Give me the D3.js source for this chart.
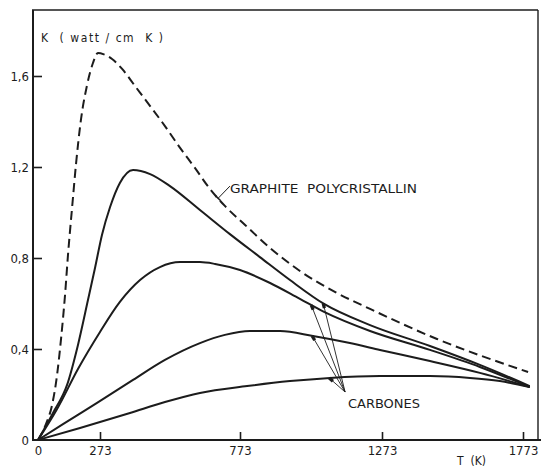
<!DOCTYPE html>
<html><head><meta charset="utf-8">
<script src="https://cdn.jsdelivr.net/npm/d3@7"></script>
<style>body{margin:0;background:#fff}svg{display:block}</style>
</head><body><svg id="c" width="541" height="470"></svg>
<script>
// ---- data ----
const tTicks = [0, 273, 773, 1273, 1773];
const kTicks = [0, 0.4, 0.8, 1.2, 1.6];

const graphiteT = [0, 35, 62, 84, 101, 119, 132, 150, 167, 189, 216, 242, 264, 287, 316, 352, 398, 452, 505, 559, 612, 666, 719, 791, 879, 984, 1107, 1231, 1468, 1791];
const graphiteK = [0, 0.070, 0.154, 0.286, 0.440, 0.637, 0.813, 1.020, 1.209, 1.407, 1.560, 1.657, 1.701, 1.695, 1.675, 1.631, 1.556, 1.468, 1.380, 1.284, 1.196, 1.103, 1.029, 0.945, 0.844, 0.743, 0.651, 0.576, 0.444, 0.299];

const carbone1T = [0, 66, 128, 176, 220, 251, 280, 309, 344, 391, 452, 523, 630, 737, 843, 949, 1069, 1231, 1443, 1620, 1797];
const carbone1K = [0, 0.119, 0.242, 0.418, 0.615, 0.756, 0.901, 1.024, 1.130, 1.187, 1.169, 1.116, 1.011, 0.905, 0.804, 0.703, 0.598, 0.505, 0.413, 0.330, 0.237];

const carbone2T = [0, 84, 176, 273, 344, 416, 487, 559, 630, 684, 773, 879, 984, 1069, 1231, 1443, 1620, 1797];
const carbone2K = [0, 0.136, 0.312, 0.475, 0.607, 0.703, 0.760, 0.782, 0.782, 0.774, 0.747, 0.690, 0.620, 0.563, 0.479, 0.396, 0.321, 0.233];

const carbone3T = [0, 110, 260, 391, 505, 630, 719, 808, 914, 1030, 1160, 1266, 1443, 1620, 1797];
const carbone3K = [0, 0.070, 0.163, 0.264, 0.352, 0.426, 0.462, 0.479, 0.479, 0.457, 0.426, 0.396, 0.347, 0.295, 0.233];

const carbone4T = [0, 185, 380, 505, 630, 798, 949, 1090, 1266, 1443, 1585, 1691, 1797];
const carbone4K = [0, 0.053, 0.119, 0.167, 0.207, 0.237, 0.259, 0.273, 0.281, 0.281, 0.273, 0.259, 0.233];

// annotation anchors (data units)
const carbonesTipT = [1066, 1024, 1027, 1087];   // on carbone1..4
const carbonesFrom = [1143, 0.211];
const graphiteTipT = 695;
const graphiteFrom = [737, 1.116];

// ---- drawing ----
const svg = d3.select('#c');
const ink = '#1c1c1c';
const font = '"DejaVu Sans Condensed","Liberation Sans Narrow",sans-serif';

const x = d3.scaleLinear().domain(tTicks).range([38, 100, 240, 382, 523]);
const y = d3.scaleLinear().domain([0, 1.6]).range([440, 76]);

// frame
const frame = svg.append('g').attr('stroke', ink).attr('fill', 'none');
frame.append('line').attr('x1', 33).attr('x2', 33).attr('y1', 10).attr('y2', 441).attr('stroke-width', 2);
frame.append('line').attr('x1', 32).attr('x2', 541).attr('y1', 440).attr('y2', 440).attr('stroke-width', 2);
frame.append('line').attr('x1', 32).attr('x2', 538).attr('y1', 10).attr('y2', 10).attr('stroke-width', 1.6);
frame.append('line').attr('x1', 538).attr('x2', 538).attr('y1', 10).attr('y2', 440).attr('stroke-width', 1.4);

// axes
const fmt = d => d === 0 ? '0' : d3.format('.1f')(d).replace('.', ',');
const yAx = svg.append('g').attr('transform', 'translate(33,0)')
  .call(d3.axisLeft(y).tickValues(kTicks).tickFormat(fmt).tickSizeInner(-9).tickSizeOuter(0).tickPadding(4));
yAx.select('.domain').remove();
yAx.selectAll('.tick line').attr('stroke', ink).attr('stroke-width', 1.6);
yAx.selectAll('.tick').filter(d => d === 0).select('line').remove();
yAx.selectAll('text').attr('font-family', font).attr('font-size', 13).attr('fill', ink);

const xAx = svg.append('g').attr('transform', 'translate(0,440)')
  .call(d3.axisBottom(x).tickValues(tTicks).tickFormat(d3.format('d')).tickSizeInner(-8).tickSizeOuter(0).tickPadding(6));
xAx.select('.domain').remove();
xAx.selectAll('.tick line').attr('stroke', ink).attr('stroke-width', 1.6);
xAx.selectAll('.tick').filter(d => d === 0).select('line').remove();
xAx.selectAll('text').attr('font-family', font).attr('font-size', 13).attr('fill', ink);

// axis titles
svg.append('text').attr('x', 41).attr('y', 42).attr('font-family', font).attr('font-size', 12).attr('fill', ink)
  .attr('textLength', 122).attr('lengthAdjust', 'spacing').attr('xml:space', 'preserve')
  .text('K  ( watt / cm  K )');
svg.append('text').attr('x', 457).attr('y', 465).attr('font-family', font).attr('font-size', 12).attr('fill', ink)
  .attr('xml:space', 'preserve').text('T  (K)');

// curves
const line = d3.line().x(d => x(d[0])).y(d => y(d[1])).curve(d3.curveMonotoneX);
const zip = (a, b) => a.map((v, i) => [v, b[i]]);
const series = [
  { t: graphiteT, k: graphiteK, dash: '9,5' },
  { t: carbone1T, k: carbone1K },
  { t: carbone2T, k: carbone2K },
  { t: carbone3T, k: carbone3K },
  { t: carbone4T, k: carbone4K },
];
svg.append('g').selectAll('path').data(series).join('path')
  .attr('d', s => line(zip(s.t, s.k)))
  .attr('fill', 'none').attr('stroke', ink).attr('stroke-width', 2)
  .attr('stroke-dasharray', s => s.dash || null)
  .attr('stroke-linejoin', 'round');

// value of a series at T (linear between read points)
const at = (s, t) => {
  const i = Math.max(1, d3.bisectLeft(s.t, t));
  const f = (t - s.t[i - 1]) / (s.t[i] - s.t[i - 1]);
  return s.k[i - 1] + f * (s.k[i] - s.k[i - 1]);
};

// graphite label + leader
const gx0 = x(graphiteFrom[0]), gy0 = y(graphiteFrom[1]);
const gx1 = x(graphiteTipT), gy1 = y(at(series[0], graphiteTipT));
svg.append('line').attr('x1', gx0).attr('y1', gy0).attr('x2', gx1).attr('y2', gy1).attr('stroke', ink).attr('stroke-width', 1);
{
  const dx = gx1 - gx0, dy = gy1 - gy0, L = Math.hypot(dx, dy);
  const px = -dy / L * 3.5, py = dx / L * 3.5;
  svg.append('line').attr('x1', gx1 - px).attr('y1', gy1 - py).attr('x2', gx1 + px).attr('y2', gy1 + py)
    .attr('stroke', ink).attr('stroke-width', 1.6);
}
svg.append('text').attr('x', 230).attr('y', 193).attr('font-family', font).attr('font-size', 13).attr('fill', ink)
  .attr('textLength', 187).attr('lengthAdjust', 'spacingAndGlyphs').attr('xml:space', 'preserve')
  .text('GRAPHITE  POLYCRISTALLIN');

// carbones label + leaders
const cx0 = x(carbonesFrom[0]), cy0 = y(carbonesFrom[1]);
carbonesTipT.forEach((t, i) => {
  const tx = x(t), ty = y(at(series[i + 1], t));
  svg.append('line').attr('x1', cx0).attr('y1', cy0).attr('x2', tx).attr('y2', ty).attr('stroke', ink).attr('stroke-width', 0.9);
  const dx = tx - cx0, dy = ty - cy0, L = Math.hypot(dx, dy);
  svg.append('line').attr('x1', tx).attr('y1', ty).attr('x2', tx - dx / L * 5).attr('y2', ty - dy / L * 5)
    .attr('stroke', ink).attr('stroke-width', 3.2);
});
svg.append('text').attr('x', 348).attr('y', 408).attr('font-family', font).attr('font-size', 13).attr('fill', ink)
  .attr('textLength', 72).attr('lengthAdjust', 'spacingAndGlyphs').text('CARBONES');
</script>
</body></html>
